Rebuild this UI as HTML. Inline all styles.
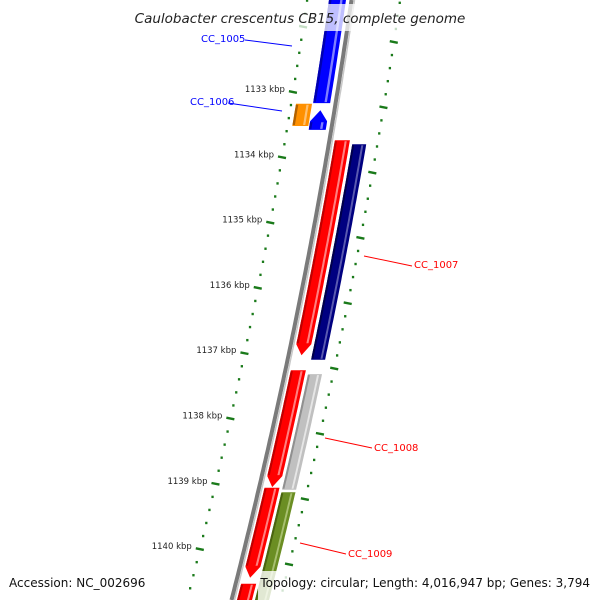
<!DOCTYPE html>
<html><head><meta charset="utf-8"><style>
html,body{margin:0;padding:0;background:#fff;width:600px;height:600px;overflow:hidden;}
svg{display:block;overflow:hidden;font-family:"DejaVu Sans","Liberation Sans",sans-serif;}
</style></head><body>
<svg id="map" width="600" height="600" viewBox="0 0 600 600">
<g id="ticks"></g>
<g id="bb"></g>
<g id="feats"></g>
<g id="labels"></g>
<rect x="132" y="4" width="336" height="27" fill="#fff" opacity="0.75"/>
<text x="300" y="23" text-anchor="middle" font-size="13.5" font-style="italic" fill="#222">Caulobacter crescentus CB15, complete genome</text>
<rect x="258" y="571" width="342" height="29" fill="#fff" opacity="0.8"/>
<text x="9" y="587" font-size="12" fill="#111">Accession: NC_002696</text>
<text x="590" y="587" text-anchor="end" font-size="12" fill="#111">Topology: circular; Length: 4,016,947 bp; Genes: 3,794</text>
</svg>
<script>
const featureNames = ["CC_1005","CC_1006","orf-orange","CC_1007","navy-feature","CC_1008","gray-feature","CC_1009","olive-feature","red-feature-4"];
const featureStart = [1131.28,1133.28,1133.18,1133.74,1133.80,1137.26,1137.32,1139.06,1139.13,1140.53];
const featureEnd   = [1133.17,1133.58,1133.52,1137.03,1137.10,1139.05,1139.09,1140.44,1141.09,1141.40];
const featureRing  = [-1,-1,-2,1,2,1,2,1,2,1];
const featureArrow = [1,1,0,1,0,1,0,1,0,1];
const majorTicks = [1133,1134,1135,1136,1137,1138,1139,1140];
const tickLabels = ["1133 kbp","1134 kbp","1135 kbp","1136 kbp","1137 kbp","1138 kbp","1139 kbp","1140 kbp"];

const NS="http://www.w3.org/2000/svg";
const Y0=92, PX=65.3;
function yOf(k){return Y0+(k-1133)*PX;}
function bx(y){return 352-0.1444*y-0.0000926*y*y;}
const palette={"CC_1005":["#0000ff","#8080ff","#0000b0"],"CC_1006":["#0000ff","#8080ff","#0000b0"],"orf-orange":["#ff9000","#ffc070","#b06000"],"CC_1007":["#ff0000","#ff8080","#c00000"],"navy-feature":["#000080","#5a5ab0","#00004a"],"CC_1008":["#ff0000","#ff8080","#c00000"],"gray-feature":["#c0c0c0","#e6e6e6","#909090"],"CC_1009":["#ff0000","#ff8080","#c00000"],"olive-feature":["#6b8e23","#a8c070","#4a6410"],"red-feature-4":["#ff0000","#ff8080","#c00000"]};
const ringOff={"-2":[-40,-24],"-1":[-23,-6],"1":[5,20],"2":[23,37]};
function mk(tag,attrs,parent){const e=document.createElementNS(NS,tag);for(const k in attrs)e.setAttribute(k,attrs[k]);parent.appendChild(e);return e;}
function band(y1,y2,o1,o2,arrow){
  let a=y1,b=y2,headTop=false,headBot=false;
  if(arrow){ if((o1+o2)/2>0){headBot=true;b=y2-11;} else {headTop=true;a=y1+11;} }
  const L=[],R=[];const step=4;
  for(let y=a;y<b;y+=step){L.push([bx(y)+o1,y]);R.push([bx(y)+o2,y]);}
  L.push([bx(b)+o1,b]);R.push([bx(b)+o2,b]);
  const m=(o1+o2)/2;
  let path=[];
  if(headTop){path.push([bx(y1)+m,y1]);}
  path=path.concat(R);
  if(headBot){path.push([bx(y2)+m,y2]);}
  path=path.concat(L.reverse());
  return path.map(p=>p[0].toFixed(1)+","+Math.max(-2,Math.min(602,p[1])).toFixed(1)).join(" ");
}
const bb=document.getElementById('bb');
let d1="",d2="";
for(let y=0;y<=600;y+=5){d1+=(y==0?"M":"L")+(bx(y)-0.5).toFixed(1)+","+y+" ";d2+=(y==0?"M":"L")+(bx(y)+2.5).toFixed(1)+","+y+" ";}
const bl=mk('path',{d:d1,stroke:"#7a7a7a","stroke-width":4,fill:"none"},bb);


const bl2=mk('path',{d:d2,stroke:"#c8c8c8","stroke-width":1.5,fill:"none"},bb);


const fg=document.getElementById('feats');
for(let i=0;i<featureNames.length;i++){
  const y1=yOf(featureStart[i]),y2=yOf(featureEnd[i]);
  const [o1,o2]=ringOff[featureRing[i]];
  const c=palette[featureNames[i]];
  const g=mk('g',{},fg);
  
  
  mk('polygon',{points:band(y1,y2,o1,o2,featureArrow[i]),fill:c[0]},g);
  const w=o2-o1;
  const s=mk('polygon',{points:band(y1+(featureArrow[i]&&o1<0?12:1),y2-(featureArrow[i]&&o1>0?12:1),o1+w*0.66,o1+w*0.8,0),fill:c[1]},g);
  
  
  const s2=mk('polygon',{points:band(y1+(featureArrow[i]&&o1<0?12:1),y2-(featureArrow[i]&&o1>0?12:1),o1,o1+w*0.15,0),fill:c[2]},g);
  
  
}
const tg=document.getElementById('ticks');
for(let k=-10;k<60;k++){
  const yl=Y0+k*PX/5, major=(k%5===0);
  if(yl>-3&&yl<598){
    const x=bx(yl)-45;
    const t=mk('line',major?{x1:x-4,y1:yl-0.8,x2:x+4,y2:yl+0.8}:{x1:x-1,y1:yl,x2:x+1.3,y2:yl},tg);
    t.setAttribute('stroke','#1a7a1a');t.setAttribute('stroke-width',2.4);
    
    
  }
  const yr=yl-50;
  if(yr>-3&&yr<598){
    const x=bx(yr)+48;
    const t=mk('line',major?{x1:x-4,y1:yr-0.8,x2:x+4,y2:yr+0.8}:{x1:x-1,y1:yr,x2:x+1.3,y2:yr},tg);
    t.setAttribute('stroke','#1a7a1a');t.setAttribute('stroke-width',2.4);
    
    
  }
}
for(let i=0;i<majorTicks.length;i++){
  const y=yOf(majorTicks[i]);
  const t=mk('text',{x:(bx(y)-53).toFixed(1),y:(y).toFixed(1),"text-anchor":"end","font-size":"8.5",fill:"#222"},tg);
  t.textContent=tickLabels[i];
  
  
}
const lg=document.getElementById('labels');
const labelText=["CC_1005","CC_1006","CC_1007","CC_1008","CC_1009"];
const labelColor=["#0000ff","#0000ff","#ff0000","#ff0000","#ff0000"];
const labelPos=[[201,42,245,40,292,46],[190,105,228,103,282,111],[414,268,364,256,412,266],[374,451,325,438,372,448],[348,557,300,543,346,554]];
for(let i=0;i<labelText.length;i++){
  const p=labelPos[i];
  const l=mk('line',{x1:p[2],y1:p[3],x2:p[4],y2:p[5],stroke:labelColor[i],"stroke-width":1},lg);
  
  
  const t=mk('text',{x:p[0],y:p[1],"font-size":"10",fill:labelColor[i]},lg);
  t.textContent=labelText[i];
  
  
}
</script>
</body></html>
